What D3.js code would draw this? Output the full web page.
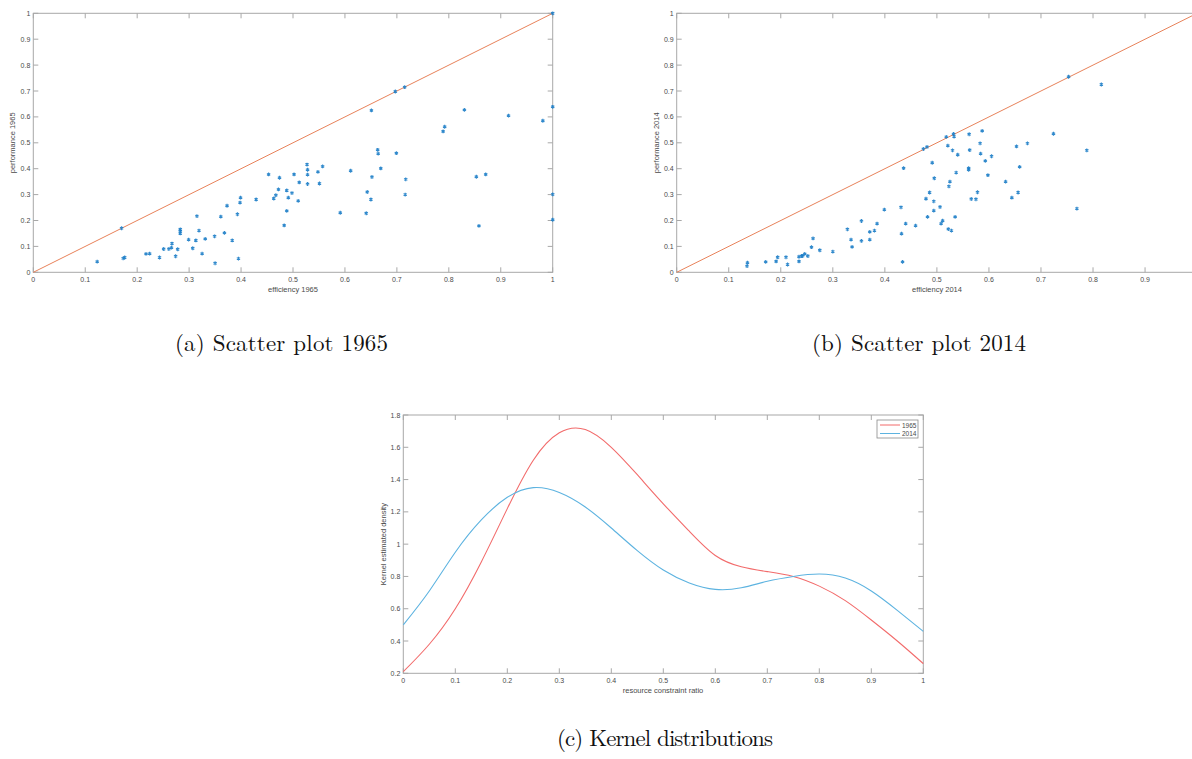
<!DOCTYPE html>
<html>
<head>
<meta charset="utf-8">
<script src="https://cdn.jsdelivr.net/npm/d3@7"></script>
<style>
    body { margin: 0; background: #fff; }
    svg { display: block; }
    .tick-label { font-family: "Liberation Sans", Arial, sans-serif; font-size: 7px; fill: #4a4a4a; }
    .axis-label { font-family: "Liberation Sans", Arial, sans-serif; font-size: 7.5px; fill: #4a4a4a; }
    .caption { font-family: "Latin Modern Roman", "Liberation Serif", serif; font-size: 23px; fill: #111; }
</style>
</head>
<body>
<div id="chart"></div>
<script>
// scatter 1965: efficiency / performance
const eff1965 = [0.123, 0.170, 0.173, 0.176, 0.217, 0.224, 0.243, 0.251, 0.261, 0.266, 0.267, 0.274, 0.278,
    0.283, 0.283, 0.283, 0.299, 0.307, 0.313, 0.315, 0.319, 0.325, 0.331, 0.349, 0.350, 0.361, 0.368, 0.373,
    0.383, 0.393, 0.395, 0.398, 0.399, 0.429, 0.453, 0.463, 0.467, 0.472, 0.474, 0.488, 0.488, 0.491, 0.483,
    0.498, 0.502, 0.510, 0.512, 0.527, 0.528, 0.528, 0.528, 0.548, 0.551, 0.557, 0.591, 0.611, 0.641, 0.643,
    0.650, 0.652, 0.651, 0.663, 0.664, 0.669, 0.697, 0.699, 0.715, 0.716, 0.717, 0.789, 0.792, 0.830, 0.853,
    0.858, 0.871, 0.915, 0.981, 1.0, 1.0, 1.0, 1.0];
const perf1965 = [0.041, 0.170, 0.054, 0.057, 0.071, 0.072, 0.057, 0.090, 0.090, 0.095, 0.111, 0.062, 0.089,
    0.166, 0.159, 0.150, 0.126, 0.093, 0.123, 0.217, 0.161, 0.072, 0.129, 0.139, 0.035, 0.215, 0.152, 0.257,
    0.123, 0.224, 0.053, 0.269, 0.288, 0.281, 0.378, 0.285, 0.298, 0.320, 0.365, 0.316, 0.237, 0.288, 0.181,
    0.306, 0.378, 0.276, 0.347, 0.416, 0.396, 0.377, 0.341, 0.388, 0.343, 0.409, 0.230, 0.392, 0.228, 0.310,
    0.281, 0.368, 0.625, 0.473, 0.458, 0.401, 0.698, 0.460, 0.715, 0.300, 0.359, 0.544, 0.562, 0.627, 0.369,
    0.179, 0.378, 0.605, 0.585, 1.0, 0.639, 0.301, 0.203];

// scatter 2014
const eff2014 = [0.135, 0.136, 0.171, 0.191, 0.194, 0.210, 0.213, 0.235, 0.235, 0.240, 0.242, 0.246, 0.252,
    0.259, 0.262, 0.275, 0.300, 0.328, 0.335, 0.337, 0.355, 0.355, 0.371, 0.371, 0.380, 0.385, 0.399, 0.431,
    0.432, 0.434, 0.436, 0.440, 0.459, 0.474, 0.481, 0.491, 0.495, 0.486, 0.479, 0.494, 0.494, 0.482, 0.506,
    0.508, 0.511, 0.518, 0.521, 0.525, 0.523, 0.522, 0.528, 0.530, 0.532, 0.533, 0.540, 0.537, 0.535, 0.562,
    0.563, 0.561, 0.561, 0.578, 0.566, 0.575, 0.583, 0.584, 0.587, 0.593, 0.598, 0.605, 0.632, 0.644, 0.653,
    0.656, 0.659, 0.674, 0.724, 0.753, 0.769, 0.788, 0.816];
const perf2014 = [0.024, 0.037, 0.040, 0.042, 0.058, 0.058, 0.030, 0.042, 0.060, 0.063, 0.063, 0.071, 0.063,
    0.097, 0.131, 0.085, 0.080, 0.166, 0.126, 0.098, 0.198, 0.121, 0.126, 0.156, 0.161, 0.188, 0.242, 0.251,
    0.149, 0.040, 0.402, 0.188, 0.180, 0.476, 0.484, 0.423, 0.363, 0.308, 0.284, 0.274, 0.238, 0.214, 0.252,
    0.188, 0.199, 0.523, 0.489, 0.350, 0.332, 0.167, 0.161, 0.471, 0.534, 0.524, 0.454, 0.385, 0.214, 0.533,
    0.472, 0.402, 0.396, 0.309, 0.283, 0.282, 0.498, 0.458, 0.546, 0.430, 0.375, 0.448, 0.350, 0.288, 0.486,
    0.308, 0.407, 0.498, 0.535, 0.755, 0.246, 0.471, 0.725];

// kernel density curves, read at 0.05 steps
const kdeX = [0, 0.05, 0.1, 0.15, 0.2, 0.25, 0.3, 0.35, 0.4, 0.45, 0.5, 0.55, 0.6, 0.65, 0.7, 0.75, 0.8, 0.85, 0.9, 0.95, 1];
const kde1965 = [0.21, 0.38, 0.60, 0.89, 1.22, 1.52, 1.69, 1.71, 1.60, 1.43, 1.25, 1.08, 0.93, 0.86, 0.83, 0.80, 0.74, 0.65, 0.53, 0.40, 0.26];
const kde2014 = [0.50, 0.71, 0.95, 1.15, 1.29, 1.35, 1.32, 1.23, 1.10, 0.96, 0.84, 0.76, 0.72, 0.73, 0.77, 0.80, 0.815, 0.79, 0.71, 0.59, 0.46];

const unitTicks = [0, 0.1, 0.2, 0.3, 0.4, 0.5, 0.6, 0.7, 0.8, 0.9, 1];
const kdeYTicks = [0.2, 0.4, 0.6, 0.8, 1, 1.2, 1.4, 1.6, 1.8];
const legendLabels = ["1965", "2014"];

const blue = "#1a7cc6", orange = "#e8825a", red = "#f26b6b", lightBlue = "#5db3e0";
const tickLen = 5;
const W = 1192, H = 759;

const svg = d3.select("#chart").append("svg")
    .attr("width", W)
    .attr("height", H);

// box with inward ticks on all four sides, MATLAB style
function drawFrame(x, y, xTicks, yTicks) {
    const [x0, x1] = x.range(), [y0, y1] = y.range();
    const g = svg.append("g");
    g.append("rect")
        .attr("x", x0).attr("y", y1)
        .attr("width", x1 - x0).attr("height", y0 - y1)
        .attr("fill", "none").attr("stroke", "#a8a8a8").attr("stroke-width", 1);

    xTicks.forEach(function (t) {
        g.append("line").attr("x1", x(t)).attr("x2", x(t)).attr("y1", y0).attr("y2", y0 - tickLen)
            .attr("stroke", "#a8a8a8");
        g.append("line").attr("x1", x(t)).attr("x2", x(t)).attr("y1", y1).attr("y2", y1 + tickLen)
            .attr("stroke", "#a8a8a8");
        // label falls outside the page for the cropped right panel
        if (x(t) > W - 4) return;
        g.append("text").attr("class", "tick-label")
            .attr("x", x(t)).attr("y", y0 + 10)
            .attr("text-anchor", "middle")
            .text(t);
    });
    yTicks.forEach(function (t) {
        g.append("line").attr("x1", x0).attr("x2", x0 + tickLen).attr("y1", y(t)).attr("y2", y(t))
            .attr("stroke", "#a8a8a8");
        g.append("line").attr("x1", x1).attr("x2", x1 - tickLen).attr("y1", y(t)).attr("y2", y(t))
            .attr("stroke", "#a8a8a8");
        g.append("text").attr("class", "tick-label")
            .attr("x", x0 - 3).attr("y", y(t) + 2.5)
            .attr("text-anchor", "end")
            .text(t);
    });
    return g;
}

function axisLabels(x, y, xLabel, yLabel, xOff, yOff) {
    const [x0, x1] = x.range(), [y0, y1] = y.range();
    svg.append("text").attr("class", "axis-label")
        .attr("x", xOff !== undefined ? xOff : (x0 + x1) / 2).attr("y", y0 + 20)
        .attr("text-anchor", "middle")
        .text(xLabel);
    svg.append("text").attr("class", "axis-label")
        .attr("transform", "translate(" + yOff + "," + (y0 + y1) / 2 + ")rotate(-90)")
        .attr("text-anchor", "middle")
        .text(yLabel);
}

const star = d3.symbol().type(d3.symbolAsterisk).size(10);

function scatter(xRange, effs, perfs, xLabel, yLabel, xLabelPos, yLabelPos) {
    const x = d3.scaleLinear().domain([0, 1]).range(xRange);
    const y = d3.scaleLinear().domain([0, 1]).range([272.3, 13.3]);
    drawFrame(x, y, unitTicks, unitTicks);
    axisLabels(x, y, xLabel, yLabel, xLabelPos, yLabelPos);

    svg.append("line")
        .attr("x1", x(0)).attr("y1", y(0))
        .attr("x2", x(1)).attr("y2", y(1))
        .attr("stroke", orange).attr("stroke-width", 1);

    svg.append("g").selectAll("path")
        .data(d3.zip(effs, perfs))
        .enter()
        .append("path")
        .attr("d", star)
        .attr("transform", function (d) {
            return "translate(" + x(d[0]) + "," + y(d[1]) + ")";
        })
        .attr("fill", "none")
        .attr("stroke", blue)
        .attr("stroke-width", 1.1)
        .attr("stroke-opacity", 0.9);
}

scatter([33.3, 552.7], eff1965, perf1965, "efficiency 1965", "performance 1965", 293, 15);
scatter([676.7, 1197.1], eff2014, perf2014, "efficiency 2014", "performance 2014", 937, 659);

// kernel distributions
const kx = d3.scaleLinear().domain([0, 1]).range([403.3, 923.3]);
const ky = d3.scaleLinear().domain([0.2, 1.8]).range([673.3, 415]);
drawFrame(kx, ky, unitTicks, kdeYTicks);
axisLabels(kx, ky, "resource constraint ratio", "Kernel estimated density", 663, 386);

const line = d3.line()
    .x(function (d) { return kx(d[0]); })
    .y(function (d) { return ky(d[1]); })
    .curve(d3.curveNatural);

svg.append("g")
    .selectAll("path")
    .data([[kde1965, red], [kde2014, lightBlue]])
    .enter()
    .append("path")
    .attr("d", function (d) { return line(d3.zip(kdeX, d[0])); })
    .attr("fill", "none")
    .attr("stroke", function (d) { return d[1]; })
    .attr("stroke-width", 1.1);

// legend
const leg = svg.append("g").attr("transform", "translate(877,420)");
leg.append("rect").attr("width", 41).attr("height", 18)
    .attr("fill", "#fff").attr("stroke", "#8a8a8a").attr("stroke-width", 0.8);
legendLabels.forEach(function (name, i) {
    const c = i === 0 ? red : lightBlue;
    leg.append("line").attr("x1", 3).attr("x2", 23)
        .attr("y1", 5 + i * 8.5).attr("y2", 5 + i * 8.5)
        .attr("stroke", c).attr("stroke-width", 1);
    leg.append("text").attr("class", "tick-label")
        .attr("x", 25).attr("y", 7.5 + i * 8.5)
        .style("font-size", "6.5px")
        .text(name);
});

// captions
const captions = [["(a) Scatter plot 1965", 281.5, 351, 213], ["(b) Scatter plot 2014", 919, 351, 214],
    ["(c) Kernel distributions", 665, 746, 216]];
captions.forEach(function (c) {
    svg.append("text").attr("class", "caption")
        .attr("x", c[1] - c[3] / 2).attr("y", c[2])
        .attr("textLength", c[3])
        .attr("lengthAdjust", "spacing")
        .text(c[0]);
});
</script>
</body>
</html>
